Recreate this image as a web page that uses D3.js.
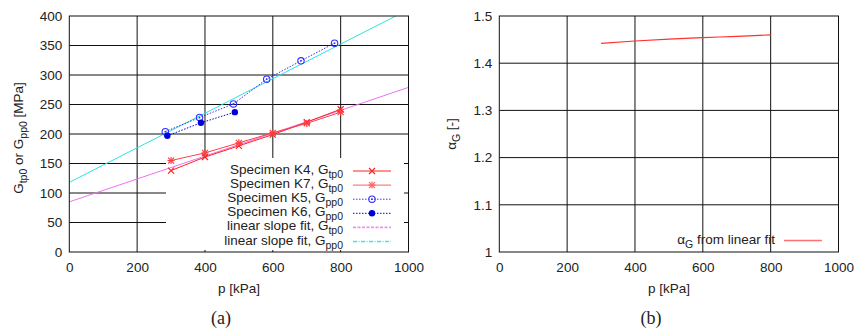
<!DOCTYPE html>
<html>
<head>
<meta charset="utf-8">
<script src="https://cdn.jsdelivr.net/npm/d3@7/dist/d3.min.js"></script>
<style>
  body { margin: 0; background: #fff; }
  svg { display: block; font-family: "Liberation Sans", Arial, sans-serif; }
</style>
</head>
<body>
<svg width="857" height="333"></svg>
<script>
// data
var xTicks = [0, 200, 400, 600, 800, 1000];
var gTicks = [0, 50, 100, 150, 200, 250, 300, 350, 400];
var aTicks = [1, 1.1, 1.2, 1.3, 1.4, 1.5];

var k4P = [300, 400, 500, 600, 700, 800];
var k4G = [138, 161, 180, 199, 220, 242];
var k7P = [300, 400, 500, 600, 700, 800];
var k7G = [155, 168, 185, 202, 218, 237];
var k5P = [283, 384, 484, 582, 683, 782];
var k5G = [204, 228, 251, 293, 324, 354];
var k6P = [289, 388, 488];
var k6G = [197, 219, 237];
var fitP = [0, 1000];
var fitTp = [85, 279];
var fitPp = [118, 411];
var alphaP = [300, 400, 500, 600, 700, 800];
var alphaG = [1.442, 1.447, 1.451, 1.454, 1.457, 1.460];

var svg = d3.select("svg");
var plotTop = 16, plotBottom = 252;

var xA = d3.scaleLinear().domain([0, 1000]).range([69.3, 408.5]);
var yA = d3.scaleLinear().domain([0, 400]).range([plotBottom, plotTop]);
var xB = d3.scaleLinear().domain([0, 1000]).range([499.3, 838.5]);
var yB = d3.scaleLinear().domain([1, 1.5]).range([plotBottom, plotTop]);

function grid(g, x, y, xt, yt) {
  g.append("g").selectAll("line").data(xt.slice(1, -1)).enter().append("line")
    .attr("x1", d => x(d)).attr("x2", d => x(d))
    .attr("y1", plotTop).attr("y2", plotBottom)
    .attr("stroke", "#111").attr("stroke-width", 1);
  g.append("g").selectAll("line").data(yt.slice(1, -1)).enter().append("line")
    .attr("x1", x.range()[0]).attr("x2", x.range()[1])
    .attr("y1", d => y(d)).attr("y2", d => y(d))
    .attr("stroke", "#111").attr("stroke-width", 1);
}

function axes(g, x, y, xt, yt, fmt) {
  var xAx = d3.axisBottom(x).tickValues(xt).tickSize(0).tickPadding(10).tickFormat(d3.format("d"));
  var yAx = d3.axisLeft(y).tickValues(yt).tickSize(0).tickPadding(7).tickFormat(fmt);
  var gx = g.append("g").attr("transform", "translate(0," + plotBottom + ")").call(xAx);
  var gy = g.append("g").attr("transform", "translate(" + x.range()[0] + ",0)").call(yAx);
  [gx, gy].forEach(function (a) {
    a.select(".domain").remove();
    a.selectAll("text").attr("font-size", 13.5).attr("fill", "#222")
      .attr("font-family", "Liberation Sans, Arial, sans-serif");
  });
  g.append("rect")
    .attr("x", x.range()[0]).attr("y", plotTop)
    .attr("width", x.range()[1] - x.range()[0]).attr("height", plotBottom - plotTop)
    .attr("fill", "none").attr("stroke", "#111").attr("stroke-width", 1);
}

// ---------- plot (a)
var ga = svg.append("g");
grid(ga, xA, yA, xTicks, gTicks);

// opaque key box
ga.append("rect").attr("x", 166).attr("y", 158).attr("width", 238).attr("height", 92)
  .attr("fill", "#fff");

svg.append("clipPath").attr("id", "clipA").append("rect")
  .attr("x", xA.range()[0]).attr("y", plotTop)
  .attr("width", xA.range()[1] - xA.range()[0]).attr("height", plotBottom - plotTop);

var lineA = d3.line().x(d => xA(d[0])).y(d => yA(d[1]));
var zip = (a, b) => a.map((v, i) => [v, b[i]]);

var dataG = ga.append("g").attr("clip-path", "url(#clipA)");
dataG.append("path").datum(zip(fitP, fitTp)).attr("d", lineA)
  .attr("fill", "none").attr("stroke", "#f070f0").attr("stroke-width", 1);
dataG.append("path").datum(zip(fitP, fitPp)).attr("d", lineA)
  .attr("fill", "none").attr("stroke", "#30e0e0").attr("stroke-width", 1);

var series = [
  { p: k4P, g: k4G, color: "#ff2020", dash: null, mark: "x" },
  { p: k7P, g: k7G, color: "#ff4040", dash: null, mark: "star" },
  { p: k5P, g: k5G, color: "#3030ff", dash: "1.5,1.5", mark: "ocirc" },
  { p: k6P, g: k6G, color: "#0000dd", dash: "1.5,1.5", mark: "dot" }
];

function marker(g, type, cx, cy, color) {
  var s = 3;
  if (type === "x" || type === "star") {
    g.append("path").attr("d", "M" + (cx - s) + "," + (cy - s) + "L" + (cx + s) + "," + (cy + s) +
      "M" + (cx - s) + "," + (cy + s) + "L" + (cx + s) + "," + (cy - s))
      .attr("stroke", color).attr("stroke-width", 1.2);
  }
  if (type === "star") {
    g.append("path").attr("d", "M" + cx + "," + (cy - s - 0.5) + "L" + cx + "," + (cy + s + 0.5) +
      "M" + (cx - s - 0.5) + "," + cy + "L" + (cx + s + 0.5) + "," + cy)
      .attr("stroke", color).attr("stroke-width", 1.2);
  }
  if (type === "ocirc") {
    g.append("circle").attr("cx", cx).attr("cy", cy).attr("r", 3.2)
      .attr("fill", "none").attr("stroke", color).attr("stroke-width", 1.1);
    g.append("circle").attr("cx", cx).attr("cy", cy).attr("r", 0.9).attr("fill", color);
  }
  if (type === "dot") {
    g.append("circle").attr("cx", cx).attr("cy", cy).attr("r", 3.2).attr("fill", color);
  }
}

series.forEach(function (s) {
  dataG.append("path").datum(zip(s.p, s.g)).attr("d", lineA)
    .attr("fill", "none").attr("stroke", s.color).attr("stroke-width", 1)
    .attr("stroke-dasharray", s.dash);
  zip(s.p, s.g).forEach(function (d) {
    marker(dataG, s.mark, xA(d[0]), yA(d[1]), s.color);
  });
});

axes(ga, xA, yA, xTicks, gTicks, d3.format("d"));

// key (a)
var keyRows = [
  { t: "Specimen K4, G", sub: "tp0", color: "#ff2020", dash: null, mark: "x" },
  { t: "Specimen K7, G", sub: "tp0", color: "#ff6060", dash: null, mark: "star" },
  { t: "Specimen K5, G", sub: "pp0", color: "#3030ff", dash: "1.5,1.5", mark: "ocirc" },
  { t: "Specimen K6, G", sub: "pp0", color: "#0000dd", dash: "1.5,1.5", mark: "dot" },
  { t: "linear slope fit, G", sub: "tp0", color: "#f090f0", dash: "3,1.5", mark: null },
  { t: "linear slope fit, G", sub: "pp0", color: "#50e0e0", dash: "4,1.5,1,1.5", mark: null }
];
keyRows.forEach(function (r, i) {
  var cy = 171 + i * 14.1;
  var t = ga.append("text").attr("x", 343).attr("y", cy + 3).attr("text-anchor", "end")
    .attr("font-size", 13.5).attr("fill", "#222");
  t.append("tspan").text(r.t);
  t.append("tspan").attr("dy", 4).attr("font-size", 10.5).text(r.sub);
  ga.append("line").attr("x1", 353).attr("x2", 391).attr("y1", cy).attr("y2", cy)
    .attr("stroke", r.color).attr("stroke-width", r.mark ? 1 : 1.6)
    .attr("stroke-dasharray", r.dash);
  if (r.mark) marker(ga, r.mark, 372, cy, r.color);
});

ga.append("text").attr("transform", "translate(23,138) rotate(-90)")
  .attr("text-anchor", "middle").attr("font-size", 13.5).attr("fill", "#222")
  .call(function (t) {
    t.append("tspan").text("G");
    t.append("tspan").attr("dy", 4).attr("font-size", 10.5).text("tp0");
    t.append("tspan").attr("dy", -4).text(" or G");
    t.append("tspan").attr("dy", 4).attr("font-size", 10.5).text("pp0");
    t.append("tspan").attr("dy", -4).text(" [MPa]");
  });
ga.append("text").attr("x", 239).attr("y", 293).attr("text-anchor", "middle")
  .attr("font-size", 13.5).attr("fill", "#222").text("p [kPa]");
ga.append("text").attr("x", 221).attr("y", 324).attr("text-anchor", "middle")
  .attr("font-family", "Liberation Serif, serif").attr("font-size", 18).attr("fill", "#222").text("(a)");

// ---------- plot (b)
var gb = svg.append("g");
grid(gb, xB, yB, xTicks, aTicks);
axes(gb, xB, yB, xTicks, aTicks, d => d === 1 ? "1" : d3.format(".1f")(d));

var lineB = d3.line().x(d => xB(d[0])).y(d => yB(d[1])).curve(d3.curveMonotoneX);
gb.append("path").datum(zip(alphaP, alphaG)).attr("d", lineB)
  .attr("fill", "none").attr("stroke", "#ff3030").attr("stroke-width", 1.2);

var kb = gb.append("text").attr("x", 775).attr("y", 244).attr("text-anchor", "end")
  .attr("font-size", 13.5).attr("fill", "#222");
kb.append("tspan").text("\u03b1");
kb.append("tspan").attr("dy", 4).attr("font-size", 10.5).text("G");
kb.append("tspan").attr("dy", -4).text(" from linear fit");
gb.append("line").attr("x1", 784).attr("x2", 822).attr("y1", 240.5).attr("y2", 240.5)
  .attr("stroke", "#ff7070").attr("stroke-width", 1.3);

gb.append("text").attr("transform", "translate(456,134) rotate(-90)")
  .attr("text-anchor", "middle").attr("font-size", 13.5).attr("fill", "#222")
  .call(function (t) {
    t.append("tspan").text("\u03b1");
    t.append("tspan").attr("dy", 4).attr("font-size", 10.5).text("G");
    t.append("tspan").attr("dy", -4).text(" [-]");
  });
gb.append("text").attr("x", 669).attr("y", 293).attr("text-anchor", "middle")
  .attr("font-size", 13.5).attr("fill", "#222").text("p [kPa]");
gb.append("text").attr("x", 651).attr("y", 324).attr("text-anchor", "middle")
  .attr("font-family", "Liberation Serif, serif").attr("font-size", 18).attr("fill", "#222").text("(b)");
</script>
</body>
</html>
